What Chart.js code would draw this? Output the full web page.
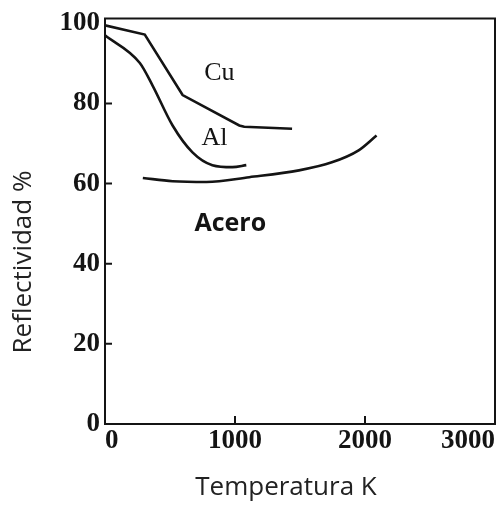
<!DOCTYPE html>
<html>
<head>
<meta charset="utf-8">
<script src="https://cdn.jsdelivr.net/npm/chart.js@4.4.1/dist/chart.umd.min.js"></script>
<style>
  html, body { margin: 0; padding: 0; background: #fff; }
  #wrap { width: 499px; height: 506px; }
</style>
</head>
<body>
<div id="wrap"><canvas id="reflChart"></canvas></div>
<script>
// Curve data (temperature K, reflectivity %)
const cuTemp = [0, 306, 597, 1033, 1071, 1439];
const cuRefl = [99.5, 97.2, 82.1, 74.5, 74.2, 73.7];

const alTemp = [0, 268, 367, 520, 673, 826, 980, 1087];
const alRefl = [97, 90.1, 84.4, 74.5, 67.8, 64.6, 64.1, 64.6];

const aceroTemp = [291, 520, 781, 1110, 1492, 1745, 1951, 2089];
const aceroRefl = [61.4, 60.6, 60.4, 61.6, 63.3, 65.3, 68.3, 72];

const xTicks = [0, 1000, 2000, 3000];
const yTicks = [0, 20, 40, 60, 80, 100];

// Curve names and where they sit on the plot (data coords)
const curveNames = ['Cu', 'Al', 'Acero'];
const nameTemp = [880, 842, 964];
const nameRefl = [87.6, 71.4, 50];

const INK = '#141414';
const serif = '"Liberation Serif", "DejaVu Serif", serif';
const sans = '"Open Sans", "Noto Sans", sans-serif';

function toPoints(xs, ys) {
    return xs.map((x, i) => ({ x: x, y: ys[i] }));
}

const frameAndLabels = {
    id: 'frameAndLabels',
    afterDraw(chart) {
        const { ctx, chartArea: a } = chart;
        const xs = chart.scales.x;
        const ys = chart.scales.y;
        ctx.save();
        ctx.strokeStyle = INK;
        ctx.lineWidth = 2;
        ctx.strokeRect(a.left, a.top, a.right - a.left, a.bottom - a.top);

        // inner tick marks
        ctx.beginPath();
        yTicks.slice(1, -1).forEach(v => {
            const py = ys.getPixelForValue(v);
            ctx.moveTo(a.left, py);
            ctx.lineTo(a.left + 7, py);
        });
        xTicks.slice(1, -1).forEach(v => {
            const px = xs.getPixelForValue(v);
            ctx.moveTo(px, a.bottom);
            ctx.lineTo(px, a.bottom - 8);
        });
        ctx.stroke();

        // curve names
        ctx.fillStyle = INK;
        ctx.textAlign = 'center';
        ctx.textBaseline = 'middle';
        curveNames.forEach((name, i) => {
            ctx.font = name === 'Acero' ? 'bold 25px ' + sans : '26px ' + serif;
            ctx.fillText(name, xs.getPixelForValue(nameTemp[i]), ys.getPixelForValue(nameRefl[i]));
        });

        // axis titles
        ctx.font = '26px ' + sans;
        ctx.fillStyle = '#222';
        ctx.fillText('Temperatura K', 286, 488);
        ctx.translate(24, 262);
        ctx.rotate(-Math.PI / 2);
        ctx.fillText('Reflectividad %', 0, 0);
        ctx.restore();
    }
};

const lineStyle = {
    borderColor: INK,
    borderWidth: 2.6,
    pointRadius: 0,
    fill: false
};

new Chart(document.getElementById('reflChart'), {
    type: 'line',
    data: {
        datasets: [
            Object.assign({ label: 'Cu', data: toPoints(cuTemp, cuRefl), tension: 0 }, lineStyle),
            Object.assign({ label: 'Al', data: toPoints(alTemp, alRefl), cubicInterpolationMode: 'monotone' }, lineStyle),
            Object.assign({ label: 'Acero', data: toPoints(aceroTemp, aceroRefl), cubicInterpolationMode: 'monotone' }, lineStyle)
        ]
    },
    options: {
        responsive: true,
        maintainAspectRatio: false,
        animation: false,
        layout: { padding: { top: 12, right: 1, left: 0, bottom: 0 } },
        plugins: {
            legend: { display: false },
            tooltip: { enabled: false }
        },
        scales: {
            x: {
                type: 'linear',
                min: 0,
                max: 3000,
                afterBuildTicks: scale => { scale.ticks = xTicks.map(v => ({ value: v })); },
                afterFit: scale => { scale.height = 82; },
                grid: { display: false, drawTicks: false },
                border: { display: false },
                ticks: {
                    align: 'inner',
                    padding: 4,
                    color: INK,
                    font: { family: serif, size: 27, weight: 'bold', lineHeight: 1 },
                    callback: v => String(v)
                }
            },
            y: {
                type: 'linear',
                min: 0,
                max: 101.2,
                afterBuildTicks: scale => { scale.ticks = yTicks.map(v => ({ value: v })); },
                afterFit: scale => { scale.width = 105; },
                grid: { display: false, drawTicks: false },
                border: { display: false },
                ticks: {
                    padding: 5,
                    color: INK,
                    font: { family: serif, size: 27, weight: 'bold', lineHeight: 1 },
                    callback: v => String(v)
                }
            }
        }
    },
    plugins: [frameAndLabels]
});
</script>
</body>
</html>
